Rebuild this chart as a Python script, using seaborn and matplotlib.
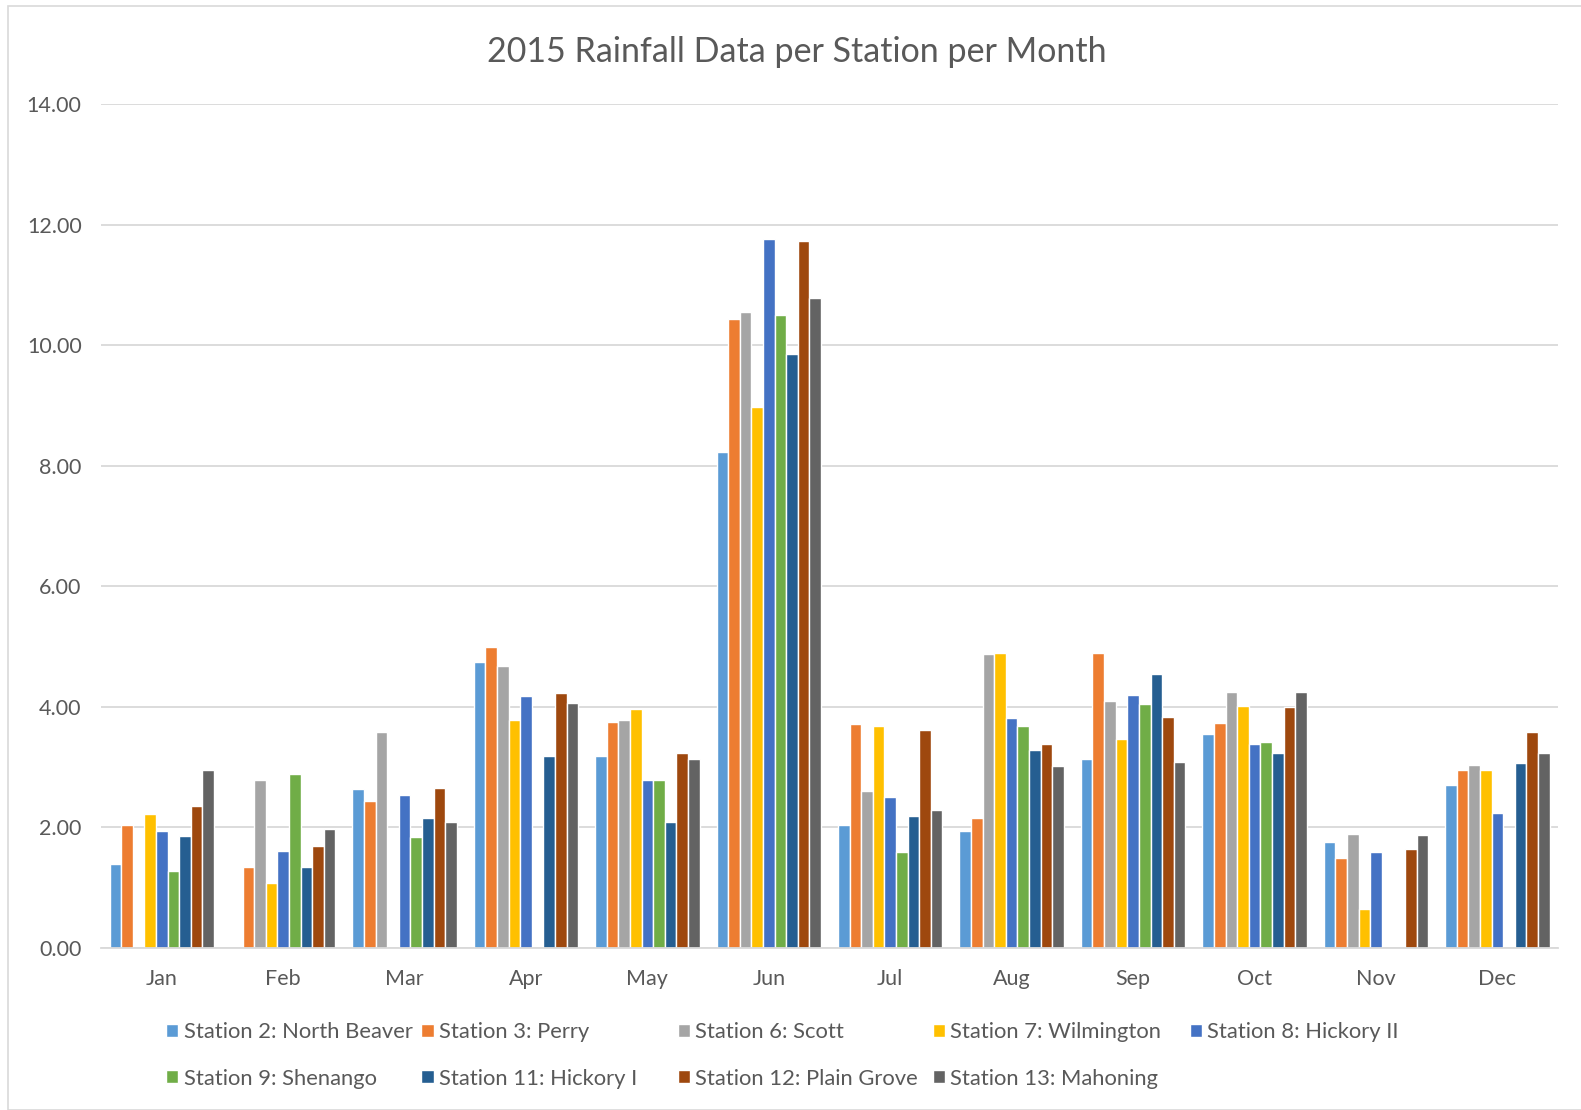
import numpy as np
import pandas as pd
import seaborn as sns
import matplotlib.pyplot as plt
from matplotlib.patches import Rectangle, Patch

months = ["Jan", "Feb", "Mar", "Apr", "May", "Jun", "Jul", "Aug", "Sep", "Oct", "Nov", "Dec"]
stations = ["Station 2: North Beaver", "Station 3: Perry", "Station 6: Scott",
            "Station 7: Wilmington", "Station 8: Hickory II", "Station 9: Shenango",
            "Station 11: Hickory I", "Station 12: Plain Grove", "Station 13: Mahoning"]
colors = ["#5B9BD5", "#ED7D31", "#A5A5A5", "#FFC000", "#4472C4",
          "#70AD47", "#255E91", "#9E480E", "#636363"]

nan = np.nan
st2 = [1.39, nan, 2.64, 4.75, 3.19, 8.23, 2.04, 1.94, 3.13, 3.55, 1.76, 2.71]
st3 = [2.04, 1.35, 2.44, 5.00, 3.75, 10.43, 3.71, 2.16, 4.90, 3.73, 1.49, 2.96]
st6 = [nan, 2.78, 3.58, 4.67, 3.78, 10.55, 2.61, 4.87, 4.10, 4.25, 1.89, 3.04]
st7 = [2.22, 1.07, nan, 3.78, 3.96, 8.98, 3.68, 4.90, 3.46, 4.01, 0.64, 2.96]
st8 = [1.94, 1.61, 2.54, 4.18, 2.78, 11.76, 2.51, 3.81, 4.20, 3.39, 1.59, 2.24]
st9 = [1.27, 2.88, 1.84, nan, 2.79, 10.50, 1.59, 3.68, 4.05, 3.41, nan, nan]
st11 = [1.86, 1.35, 2.16, 3.18, 2.09, 9.85, 2.19, 3.29, 4.55, 3.24, nan, 3.06]
st12 = [2.36, 1.69, 2.66, 4.23, 3.24, 11.72, 3.61, 3.39, 3.83, 4.00, 1.64, 3.58]
st13 = [2.96, 1.97, 2.09, 4.06, 3.13, 10.79, 2.29, 3.01, 3.08, 4.25, 1.87, 3.23]

series = [st2, st3, st6, st7, st8, st9, st11, st12, st13]
rows = []
for name, vals in zip(stations, series):
    for m, v in zip(months, vals):
        rows.append({"Month": m, "Station": name, "Rain": v})
df = pd.DataFrame(rows)

sns.set_style("white")
plt.rcParams["font.family"] = ["Lato", "DejaVu Sans"]

fig = plt.figure(figsize=(15.81, 11.10), dpi=100)
ax = fig.add_axes([0.0639, 0.146, 0.9216, 0.7603])

sns.barplot(data=df, x="Month", y="Rain", hue="Station", order=months,
            hue_order=stations, palette=colors, saturation=1, errorbar=None,
            width=0.86, edgecolor="white", linewidth=1, ax=ax, legend=False)

ax.set_ylim(0, 14)
ax.set_yticks(np.arange(0, 14.01, 2))
ax.set_yticklabels([f"{v:.2f}" for v in np.arange(0, 14.01, 2)])
ax.set_xlim(-0.5, 11.5)
ax.yaxis.grid(True, color="#D9D9D9", linewidth=1.3)
ax.set_axisbelow(True)
for s in ["top", "right", "left"]:
    ax.spines[s].set_visible(False)
ax.spines["bottom"].set_color("#D9D9D9")
ax.spines["bottom"].set_linewidth(1.3)
ax.tick_params(axis="both", length=0, labelsize=15.5, colors="#595959")
ax.tick_params(axis="y", pad=14)
ax.tick_params(axis="x", pad=15)
ax.set_xlabel("")
ax.set_ylabel("")

fig.text(0.504, 0.953, "2015 Rainfall Data per Station per Month",
         ha="center", va="center", fontsize=24.5, color="#595959")

# legend laid out like Excel: equal-width columns, filled row by row
col_x = [0.1052, 0.2666, 0.4286, 0.5899, 0.7526]
for c, x in enumerate(col_x):
    idx = [i for i in (c, c + 5) if i < len(stations)]
    leg = fig.legend([Patch(facecolor=colors[i]) for i in idx],
                     [stations[i] for i in idx],
                     loc="upper left", bbox_to_anchor=(x, 0.079), frameon=False,
                     fontsize=15.8, labelcolor="#595959", handlelength=0.55,
                     handleheight=0.55, handletextpad=0.25, borderpad=0,
                     borderaxespad=0, labelspacing=1.2)

fig.patches.append(Rectangle((0.005, 0.0), 1.2, 0.995, transform=fig.transFigure,
                             fill=False, edgecolor="#D9D9D9", linewidth=1.2))

fig.savefig("out.png", dpi=100, facecolor="white")
